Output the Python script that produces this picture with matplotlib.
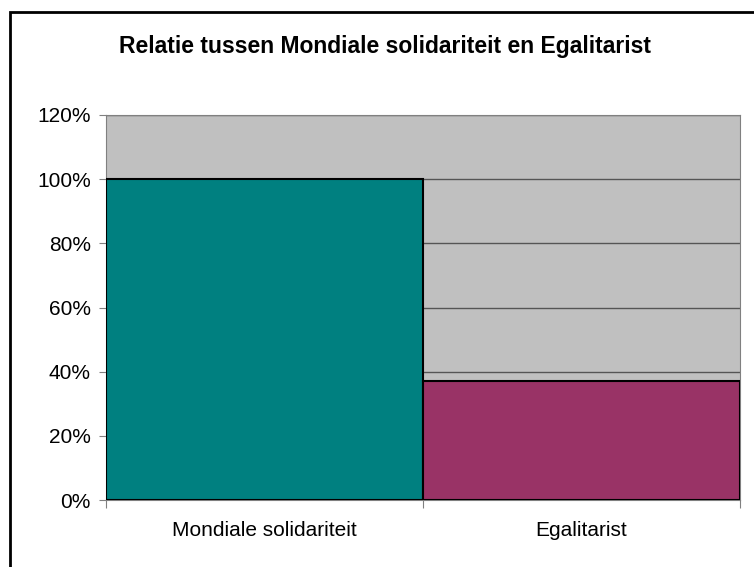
import matplotlib
matplotlib.use("Agg")
import matplotlib.pyplot as plt
from matplotlib.patches import Rectangle
from matplotlib.ticker import PercentFormatter

categories = ["Mondiale solidariteit", "Egalitarist"]
values = [100, 37]
colors = ["#008080", "#993366"]
yticks = [0, 20, 40, 60, 80, 100, 120]

plt.rcParams["font.family"] = ["Liberation Sans", "DejaVu Sans"]

fig = plt.figure(figsize=(7.54, 5.67), dpi=100)
ax = fig.add_axes([106 / 754, 67 / 567, 634 / 754, 385 / 567])

# outer chart border, cut off at right and bottom
fig.patches.append(Rectangle((10 / 754, -0.2), 1.2, (555 / 567) + 0.2,
                             transform=fig.transFigure, fill=False,
                             edgecolor="black", linewidth=2))

x = list(range(len(categories)))
ax.bar(x, values, width=1.0, color=colors, edgecolor="black", linewidth=1.5, zorder=3)

ax.set_facecolor("#c0c0c0")
ax.set_xlim(-0.5, len(categories) - 0.5)
ax.set_ylim(0, 120)
ax.set_yticks(yticks)
ax.yaxis.set_major_formatter(PercentFormatter(decimals=0))
ax.grid(axis="y", color="#555555", linewidth=1, zorder=1)

ax.set_xticks([-0.5, 0.5, 1.5])
ax.set_xticklabels([])
ax.set_xticks(x, minor=True)
ax.set_xticklabels(categories, minor=True)
ax.tick_params(axis="x", which="minor", length=0, pad=15, labelsize=15)
ax.tick_params(axis="x", which="major", length=6, color="#808080", direction="out")
ax.tick_params(axis="y", length=5, color="#808080", labelsize=15, pad=6)

for side in ["top", "right", "left", "bottom"]:
    ax.spines[side].set_color("#808080")

fig.text(385 / 754, 1 - 46 / 567, "Relatie tussen Mondiale solidariteit en Egalitarist",
         ha="center", va="center", fontsize=16.5, fontweight="bold")

plt.savefig("out.png", dpi=100)
